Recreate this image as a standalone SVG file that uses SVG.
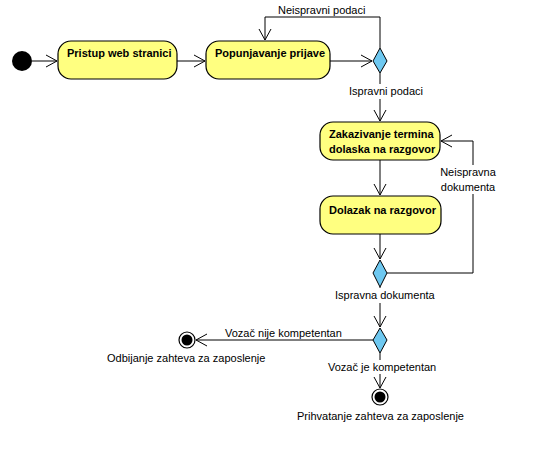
<svg xmlns="http://www.w3.org/2000/svg" width="537" height="459" viewBox="0 0 537 459">
<style>
.act{fill:#ffff80;stroke:#000;stroke-width:1.2}
.dec{fill:#6ec8f0;stroke:#000;stroke-width:1}
.bt{font-family:"Liberation Sans",Arial,sans-serif;font-size:11px;font-weight:bold;fill:#000}
.lb{font-family:"Liberation Sans",Arial,sans-serif;font-size:11px;fill:#000}
.c{fill:none;stroke:#000;stroke-width:1}
.bg{fill:#fff}
</style>
<defs>
<marker id="a" markerUnits="userSpaceOnUse" markerWidth="14" markerHeight="14" refX="11" refY="6" orient="auto" viewBox="0 0 14 12">
<path d="M0,0 L11,6 L0,12" fill="none" stroke="#000" stroke-width="1"/>
</marker>
</defs>
<rect width="537" height="459" fill="#fff"/>
<g id="connectors">
<path class="c" d="M32,61 H57" marker-end="url(#a)"/>
<path class="c" d="M177,61 H205" marker-end="url(#a)"/>
<path class="c" d="M330,61 H372" marker-end="url(#a)"/>
<path class="c" d="M380,48 V17 H265 V40" marker-end="url(#a)"/>
<path class="c" d="M380,73 V121" marker-end="url(#a)"/>
<path class="c" d="M380,160 V195" marker-end="url(#a)"/>
<path class="c" d="M380,234 V259" marker-end="url(#a)"/>
<path class="c" d="M387,273 H473 V141 H441" marker-end="url(#a)"/>
<path class="c" d="M380,287 V327" marker-end="url(#a)"/>
<path class="c" d="M373,340 H196" marker-end="url(#a)"/>
<path class="c" d="M380,353 V388" marker-end="url(#a)"/>
<rect class="bg" x="347" y="84" width="78" height="15"/>
<rect class="bg" x="438" y="165" width="61" height="29"/>
<rect class="bg" x="333" y="288" width="102" height="15"/>
<rect class="bg" x="326" y="360" width="113" height="14"/>
<text class="lb" x="278" y="14">Neispravni podaci</text>
<text class="lb" x="349" y="95">Ispravni podaci</text>
<text class="lb" x="468" y="176" text-anchor="middle">Neispravna</text>
<text class="lb" x="468" y="191" text-anchor="middle">dokumenta</text>
<text class="lb" x="335" y="299">Ispravna dokumenta</text>
<text class="lb" x="225" y="337">Vozač nije kompetentan</text>
<text class="lb" x="328" y="371">Vozač je kompetentan</text>
</g>
<g id="start"><circle cx="22" cy="61" r="10" fill="#000"/></g>
<g id="n1"><rect class="act" x="58" y="41" width="119" height="38" rx="13"/><text class="bt" x="67" y="57">Pristup web stranici</text></g>
<g id="n2"><rect class="act" x="206" y="41" width="124" height="38" rx="13"/><text class="bt" x="215" y="57">Popunjavanje prijave</text></g>
<g id="d1"><path class="dec" d="M380,48 L387,61 L380,73 L373,61 Z"/></g>
<g id="n3"><rect class="act" x="320" y="122" width="120" height="38" rx="13"/><text class="bt" x="329" y="138">Zakazivanje termina</text><text class="bt" x="329" y="153">dolaska na razgovor</text></g>
<g id="n4"><rect class="act" x="320" y="196" width="121" height="38" rx="13"/><text class="bt" x="329" y="214">Dolazak na razgovor</text></g>
<g id="d2"><path class="dec" d="M380,260 L387,273 L380,287 L373,273 Z"/></g>
<g id="d3"><path class="dec" d="M380,328 L387,340 L380,353 L373,340 Z"/></g>
<g id="f1"><circle cx="187" cy="340" r="8" fill="#fff" stroke="#000" stroke-width="1.2"/><circle cx="187" cy="340" r="5.5" fill="#000"/><text class="lb" x="107" y="362">Odbijanje zahteva za zaposlenje</text></g>
<g id="f2"><circle cx="380" cy="397" r="8" fill="#fff" stroke="#000" stroke-width="1.2"/><circle cx="380" cy="397" r="5.5" fill="#000"/><text class="lb" x="297" y="420">Prihvatanje zahteva za zaposlenje</text></g>
</svg>
